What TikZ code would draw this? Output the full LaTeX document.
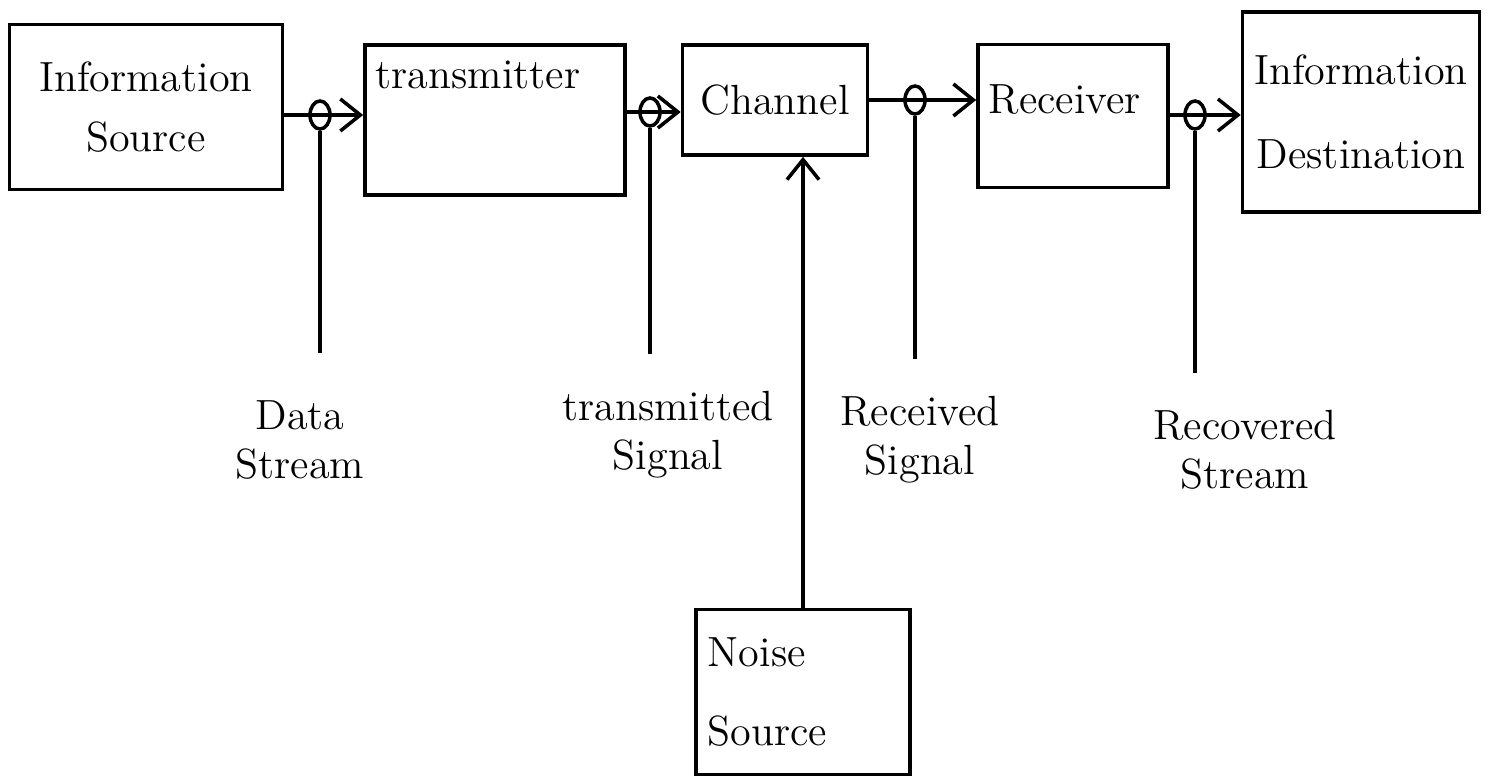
\documentclass[tikz,border=0pt]{standalone}
\usepackage{tikz}
\usetikzlibrary{arrows.meta, positioning, shapes}

\begin{document}
\begin{tikzpicture}[x=0.01cm, y=-0.01cm,
        block/.style={rectangle, draw, line width=1pt, font=\large},
        tag/.style={align=center, font=\large},
        probe/.style={ellipse, draw, line width=1pt, inner sep=0pt, minimum width=0.2cm, minimum height=0.28cm},
        >={Straight Barb[length=2mm, width=3.2mm]}]
        \useasboundingbox (0,0) rectangle (1492,778);
        % blocks along the chain
        \node[block, minimum width=2.73cm, minimum height=1.65cm, align=center] (src) at (146,107) {Information\\[0.1cm]Source};
        \node[block, minimum width=2.6cm, minimum height=1.5cm,
              label={[anchor=north west, font=\large, yshift=-0.05cm]north west:transmitter}] (tx) at (495,120) {};
        \node[block, minimum width=1.85cm, minimum height=1.1cm] (ch) at (775,100) {Channel};
        \node[block, minimum width=1.9cm, minimum height=1.43cm,
              label={[anchor=north west, font=\large, yshift=-0.3cm]north west:Receiver}] (rx) at (1073,116) {};
        \node[block, minimum width=2.33cm, minimum height=2cm, align=center] (dst) at (1361,112) {Information\\[0.35cm]Destination};
        \node[block, minimum width=2.13cm, minimum height=1.65cm, align=left, text width=1.9cm] (noise) at (803,692) {Noise\\[0.3cm]Source};

        % probe points on the links
        \node[probe] (pa) at (320,115) {};
        \node[probe] (pb) at (650,112) {};
        \node[probe] (pc) at (915,100) {};
        \node[probe] (pd) at (1195,115) {};

        \draw[line width=1pt, ->] (src.east |- pa) -- (tx.west |- pa);
        \draw[line width=1pt, ->] (tx.east |- pb) -- (ch.west |- pb);
        \draw[line width=1pt, ->] (ch.east |- pc) -- (rx.west |- pc);
        \draw[line width=1pt, ->] (rx.east |- pd) -- (dst.west |- pd);
        \draw[line width=1pt, ->] (noise) -- (noise |- ch.south);

        % signal names
        \node[tag] (ds) at (300,440) {Data\\Stream};
        \node[tag] (ts) at (668,435) {transmitted\\Signal};
        \node[tag] (rs) at (920,440) {Received\\Signal};
        \node[tag] (rcs) at (1245,450) {Recovered\\Stream};

        \draw[line width=1pt] (pa) -- ([yshift=0.35cm]pa |- ds.north);
        \draw[line width=1pt] (pb) -- ([yshift=0.25cm]pb |- ts.north);
        \draw[line width=1pt] (pc) -- ([yshift=0.25cm]pc |- rs.north);
        \draw[line width=1pt] (pd) -- ([yshift=0.25cm]pd |- rcs.north);
    \end{tikzpicture}
\end{document}
